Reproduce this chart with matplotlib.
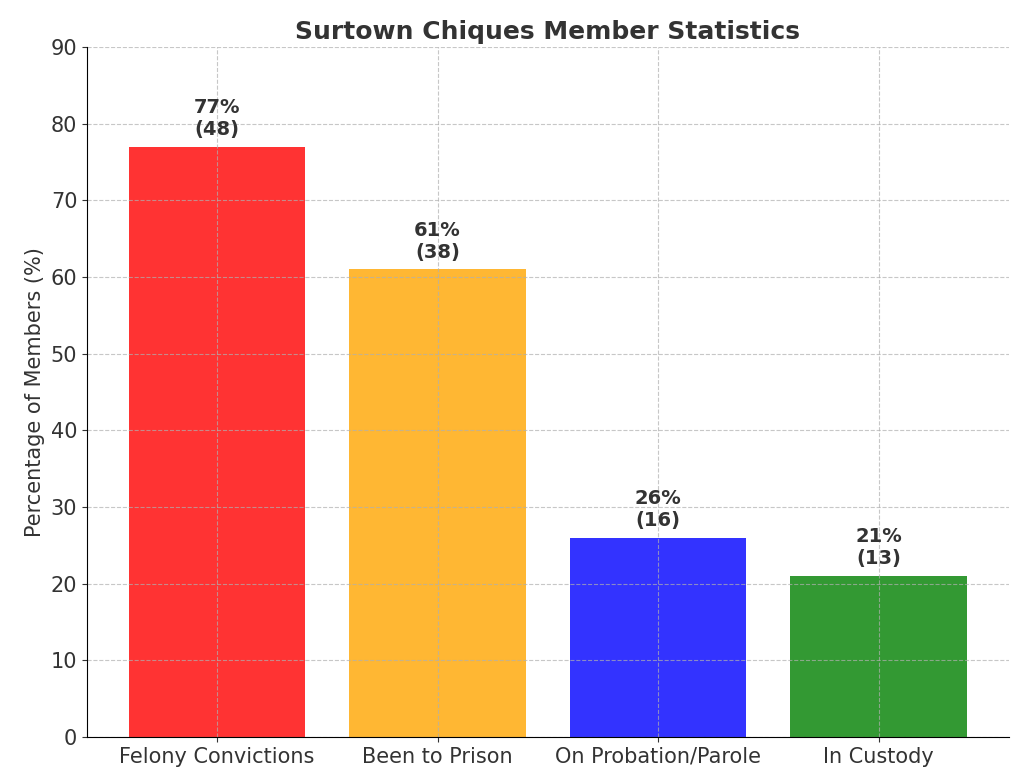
import matplotlib.pyplot as plt

categories = ["Felony Convictions", "Been to Prison", "On Probation/Parole", "In Custody"]
percentages = [77, 61, 26, 21]
counts = [48, 38, 16, 13]
colors = ["red", "orange", "blue", "green"]

fig, ax = plt.subplots(figsize=(10.24, 7.84), dpi=100)
bars = ax.bar(categories, percentages, color=colors, alpha=0.8)

# Labels above each bar
for bar, pct, n in zip(bars, percentages, counts):
    ax.text(bar.get_x() + bar.get_width() / 2, bar.get_height() + 1,
            f"{pct}%\n({n})", ha="center", va="bottom",
            fontsize=14, fontweight="bold", color="#333333")

ax.set_title("Surtown Chiques Member Statistics", fontsize=18, fontweight="bold", color="#333333")
ax.set_ylabel("Percentage of Members (%)", fontsize=15, color="#333333")
ax.set_ylim(0, 90)
ax.tick_params(labelsize=15, colors="#333333")
ax.grid(linestyle="--", alpha=0.7)
ax.spines["top"].set_visible(False)
ax.spines["right"].set_visible(False)

plt.subplots_adjust(left=0.085, right=0.985, top=0.94, bottom=0.06)
plt.savefig("out.png")
plt.close()
